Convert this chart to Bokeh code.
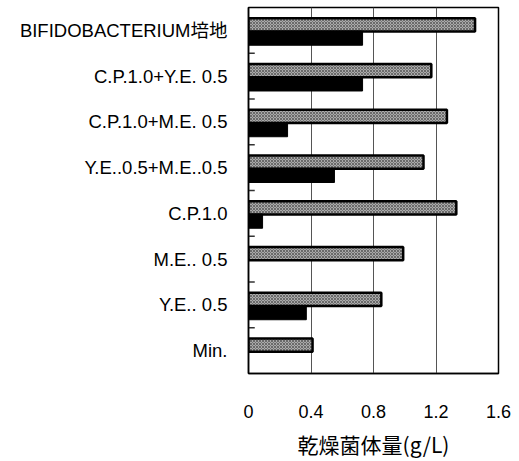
from bokeh.plotting import figure
from bokeh.models import FactorRange, ColumnDataSource, FixedTicker, Range1d
from bokeh.transform import dodge
from bokeh.embed import file_html
from bokeh.resources import INLINE

# Media, listed from top to bottom as drawn
categories = [
    "BIFIDOBACTERIUM培地",
    "C.P.1.0+Y.E. 0.5",
    "C.P.1.0+M.E. 0.5",
    "Y.E..0.5+M.E..0.5",
    "C.P.1.0",
    "M.E.. 0.5",
    "Y.E.. 0.5",
    "Min.",
]
# Dry cell mass (g/L), two series per medium
series_gray = [1.45, 1.17, 1.27, 1.12, 1.33, 0.99, 0.85, 0.41]
series_black = [0.73, 0.73, 0.25, 0.55, 0.09, 0.0, 0.37, 0.0]
x_ticks = [0, 0.4, 0.8, 1.2, 1.6]
x_tick_labels = ["0", "0.4", "0.8", "1.2", "1.6"]
x_title = "乾燥菌体量(g/L)"

LABEL_FONT = "Liberation Sans, Noto Sans CJK JP"

src = ColumnDataSource(dict(cat=categories, gray=series_gray, black=series_black))

p = figure(
    width=519, height=461,
    y_range=FactorRange(factors=list(reversed(categories))),
    x_range=Range1d(0, 1.6),
    output_backend="svg", toolbar_location=None,
    min_border_left=248, min_border_right=21,
    min_border_top=7, min_border_bottom=82,
)
p.y_range.range_padding = 0

p.hbar(y=dodge("cat", 0.12, range=p.y_range), left=0, right="gray", height=0.29,
       source=src, fill_color="#aaaaaa", hatch_pattern="diagonal_cross",
       hatch_color="#6a6a6a", hatch_scale=3, hatch_weight=1,
       line_color="black", line_width=2.5)
p.hbar(y=dodge("cat", -0.17, range=p.y_range), left=0, right="black", height=0.31,
       source=src, fill_color="black", line_color="black", line_width=1)

# short ticks on the boundaries between media
bsrc = ColumnDataSource(dict(cat=categories[1:]))
p.segment(x0=0, x1=0.04, y0=dodge("cat", 0.5, range=p.y_range),
          y1=dodge("cat", 0.5, range=p.y_range), source=bsrc,
          line_color="#333333", line_width=1.5)

p.outline_line_color = "black"
p.outline_line_width = 1.5

p.ygrid.grid_line_color = None
p.xgrid.grid_line_color = "#555555"
p.xgrid.grid_line_width = 1
p.xgrid.ticker = FixedTicker(ticks=[0.4, 0.8, 1.2])

xa = p.xaxis[0]
xa.ticker = FixedTicker(ticks=x_ticks)
xa.major_label_overrides = {t: l for t, l in zip(x_ticks, x_tick_labels)}
xa.major_tick_line_color = None
xa.minor_tick_line_color = None
xa.axis_line_color = "black"
xa.axis_line_width = 1.5
xa.major_label_text_font = LABEL_FONT
xa.major_label_text_font_size = "18px"
xa.major_label_text_color = "black"
xa.major_label_standoff = 25
xa.axis_label = x_title
xa.axis_label_text_font = "Noto Sans CJK JP"
xa.axis_label_text_font_size = "21px"
xa.axis_label_text_font_style = "normal"
xa.axis_label_text_color = "black"
xa.axis_label_standoff = 8

ya = p.yaxis[0]
ya.major_tick_line_color = None
ya.axis_line_color = "black"
ya.axis_line_width = 1.5
ya.major_label_text_font = LABEL_FONT
ya.major_label_text_font_size = "18.5px"
ya.major_label_text_color = "black"
ya.major_label_standoff = 15

open("out.html", "w").write(file_html(p, INLINE))
